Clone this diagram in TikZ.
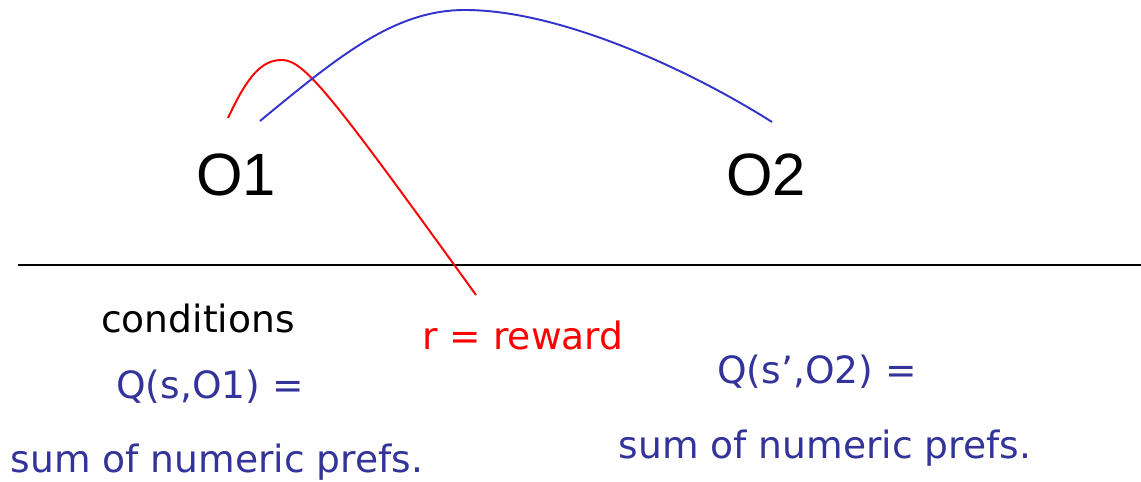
\documentclass[tikz,border=0pt]{standalone}
\usepackage{fontspec}
\setmainfont{DejaVu Sans}
\newfontfamily\optfont{Liberation Sans}
\usetikzlibrary{positioning}
\definecolor{qblue}{HTML}{333399}
\definecolor{arcblue}{HTML}{3333CC}

\begin{document}
\begin{tikzpicture}[
    x=0.02cm, y=-0.02cm,
    % operator names and the text under the line
    opname/.style={font=\optfont\fontsize{34}{40}\selectfont, anchor=base, inner sep=0pt},
    txt/.style={font=\fontsize{21.4}{25}\selectfont, anchor=base, inner sep=0pt},
    qtxt/.style={txt, text=qblue},
    arc/.style={line width=1.1pt}
]
    \useasboundingbox (0,0) rectangle (1141,482);

    % --- Operators ---
    \node[opname] (o1) at (236,196) {O1};
    \node[opname] (o2) at (766,196) {O2};

    % --- Separator ---
    \coordinate (sepl) at (18,265);
    \coordinate (sepr) at (1141,265);
    \draw[line width=1.1pt] (sepl) -- (sepr);

    % --- Texts under the line ---
    \node[txt] (cond) at (198,333) {conditions};
    \node[txt, text=red] (rew) at (523,350) {r = reward};
    \node[qtxt] (q1) at (210,398) {Q(s,O1) =};
    \node[qtxt] (sum1) at (217,472) {sum of numeric prefs.};
    \node[qtxt] (q2) at (817,383) {Q(s’,O2) =};
    \node[qtxt] (sum2) at (825,458) {sum of numeric prefs.};

    % --- Arcs ---
    \coordinate (redstart) at (228,118);
    \coordinate (redtop) at (282,60);
    \coordinate (redend) at (476,295);
    \coordinate (bluestart) at (260,121);
    \coordinate (bluetop) at (465,10);
    \coordinate (blueend) at (772,122);

    \draw[arc, red] (redstart) .. controls (248,75) and (262,60) .. (redtop)
        .. controls (305,60) and (335,100) .. (redend);
    \draw[arc, arcblue] (bluestart) .. controls (340,55) and (395,10) .. (bluetop)
        .. controls (560,10) and (690,70) .. (blueend);
\end{tikzpicture}
\end{document}
